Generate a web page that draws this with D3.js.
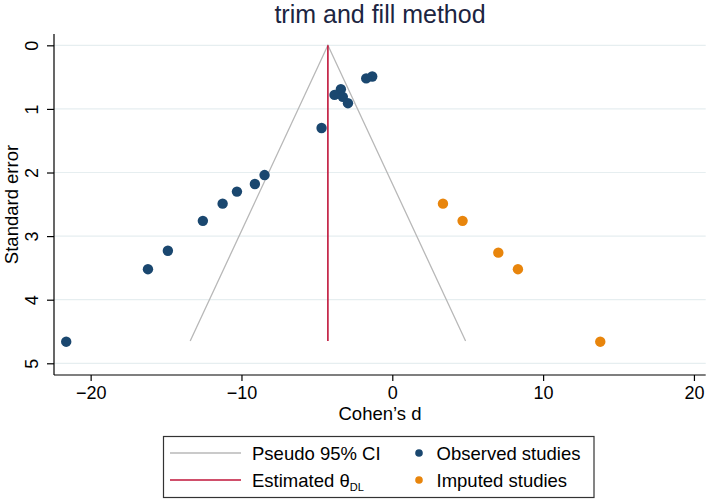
<!DOCTYPE html>
<html lang="en">
<head>
<meta charset="utf-8">
<title>trim and fill method</title>
<script src="https://d3js.org/d3.v7.min.js"></script>
<style>
  body { margin: 0; background: #fff; }
  svg text { font-family: "Liberation Sans", Arial, Helvetica, sans-serif; }
</style>
</head>
<body>
<div id="chart"></div>
<script>
// observed studies: Cohen's d and standard error
var observedD  = [-1.33, -1.73, -3.41, -3.83, -3.28, -2.94, -4.69, -8.47, -9.11, -10.30, -11.25, -12.56, -14.88, -16.20, -21.62];
var observedSE = [0.49, 0.52, 0.69, 0.78, 0.81, 0.91, 1.30, 2.04, 2.18, 2.30, 2.49, 2.76, 3.23, 3.52, 4.66];
// imputed studies
var imputedD  = [3.36, 4.66, 7.03, 8.33, 13.79];
var imputedSE = [2.49, 2.76, 3.26, 3.52, 4.66];
// estimate and pseudo 95% CI funnel (lower end, apex, upper end)
var thetaDL = -4.27;
var funnelD  = [-13.40, -4.27, 4.86];
var funnelSE = [4.65, 0, 4.65];
var thetaSE = [0, 4.65];
var xTicks = [-20, -10, 0, 10, 20];
var yTicks = [0, 1, 2, 3, 4, 5];

var W = 709, H = 501;
var plot = {left: 54, right: 705.7, top: 34, bottom: 375};

var svg = d3.select("#chart").append("svg")
  .attr("width", W).attr("height", H);

var x = d3.scaleLinear().domain([-22.43, 20.78]).range([plot.left, plot.right]);
var y = d3.scaleLinear().domain([-0.178, 5.184]).range([plot.top, plot.bottom]);

// title
svg.append("text")
  .attr("x", 380).attr("y", 23)
  .attr("text-anchor", "middle")
  .style("font-size", "25px")
  .style("fill", "#1c2541")
  .text("trim and fill method");

// grid lines
svg.append("g").selectAll("line")
  .data(yTicks).enter().append("line")
  .attr("x1", plot.left).attr("x2", plot.right)
  .attr("y1", function(d) { return y(d); })
  .attr("y2", function(d) { return y(d); })
  .style("stroke", "#e6eef0").style("stroke-width", 1.2);

// y axis
var yAxis = svg.append("g")
  .attr("transform", "translate(" + plot.left + ",0)")
  .call(d3.axisLeft(y).tickValues(yTicks).tickSize(7).tickFormat(d3.format("d")));
yAxis.select(".domain").attr("d", "M0," + plot.top + "V" + plot.bottom).style("stroke", "#000").style("stroke-width", 1.2);
yAxis.selectAll(".tick line").style("stroke", "#000").style("stroke-width", 1.2);
yAxis.selectAll(".tick text")
  .attr("x", 0).attr("dy", 0)
  .attr("transform", "translate(-16.5,0) rotate(-90)")
  .attr("text-anchor", "middle")
  .style("font-size", "18px").style("fill", "#000");

// x axis
var xAxis = svg.append("g")
  .attr("transform", "translate(0," + plot.bottom + ")")
  .call(d3.axisBottom(x).tickValues(xTicks).tickSize(6).tickFormat(function(d) { return d < 0 ? "\u2212" + Math.abs(d) : d; }));
xAxis.select(".domain").attr("d", "M" + plot.left + ",0H" + plot.right).style("stroke", "#000").style("stroke-width", 1.2);
xAxis.selectAll(".tick line").style("stroke", "#000").style("stroke-width", 1.2);
xAxis.selectAll(".tick text")
  .attr("y", 24).attr("dy", 0)
  .style("font-size", "18px").style("fill", "#000");

// axis titles
svg.append("text")
  .attr("x", 380).attr("y", 420)
  .attr("text-anchor", "middle")
  .style("font-size", "18.5px")
  .text("Cohen\u2019s d");

svg.append("text")
  .attr("transform", "translate(18," + ((plot.top + plot.bottom) / 2) + ") rotate(-90)")
  .attr("text-anchor", "middle")
  .style("font-size", "18.5px")
  .text("Standard error");

// pseudo 95% CI funnel
var line = d3.line()
  .x(function(d) { return x(d[0]); })
  .y(function(d) { return y(d[1]); });

svg.append("path")
  .datum(d3.zip(funnelD, funnelSE))
  .attr("d", line)
  .style("fill", "none").style("stroke", "#b8b8b8").style("stroke-width", 1.3);

// estimated theta
svg.append("path")
  .datum(thetaSE.map(function(s) { return [thetaDL, s]; }))
  .attr("d", line)
  .style("fill", "none").style("stroke", "#c0153a").style("stroke-width", 1.6);

// points
svg.append("g").selectAll("circle")
  .data(d3.zip(observedD, observedSE)).enter().append("circle")
  .attr("cx", function(d) { return x(d[0]); })
  .attr("cy", function(d) { return y(d[1]); })
  .attr("r", 5.2)
  .style("fill", "#1a476f");

svg.append("g").selectAll("circle")
  .data(d3.zip(imputedD, imputedSE)).enter().append("circle")
  .attr("cx", function(d) { return x(d[0]); })
  .attr("cy", function(d) { return y(d[1]); })
  .attr("r", 5.2)
  .style("fill", "#e8850c");

// legend
var legend = svg.append("g");
legend.append("rect")
  .attr("x", 163.5).attr("y", 436.5)
  .attr("width", 430.5).attr("height", 61)
  .style("fill", "#fff").style("stroke", "#333").style("stroke-width", 1.2);

var rows = [453, 480];
legend.append("line")
  .attr("x1", 170).attr("x2", 241).attr("y1", rows[0]).attr("y2", rows[0])
  .style("stroke", "#b8b8b8").style("stroke-width", 1.4);
legend.append("line")
  .attr("x1", 170).attr("x2", 241).attr("y1", rows[1]).attr("y2", rows[1])
  .style("stroke", "#c0153a").style("stroke-width", 1.6);

legend.append("text")
  .attr("x", 252).attr("y", rows[0] + 6.5)
  .style("font-size", "18.5px")
  .text("Pseudo 95% CI");

var est = legend.append("text")
  .attr("x", 252).attr("y", rows[1] + 6.5)
  .style("font-size", "18.5px");
est.append("tspan").text("Estimated \u03b8");
est.append("tspan").attr("dy", 4).style("font-size", "11px").text("DL");

legend.append("circle").attr("cx", 419).attr("cy", rows[0]).attr("r", 3.8).style("fill", "#1a476f");
legend.append("circle").attr("cx", 419).attr("cy", rows[1]).attr("r", 3.8).style("fill", "#e8850c");

legend.append("text")
  .attr("x", 436.5).attr("y", rows[0] + 6.5)
  .style("font-size", "18.5px")
  .text("Observed studies");
legend.append("text")
  .attr("x", 436.5).attr("y", rows[1] + 6.5)
  .style("font-size", "18.5px")
  .text("Imputed studies");
</script>
</body>
</html>
